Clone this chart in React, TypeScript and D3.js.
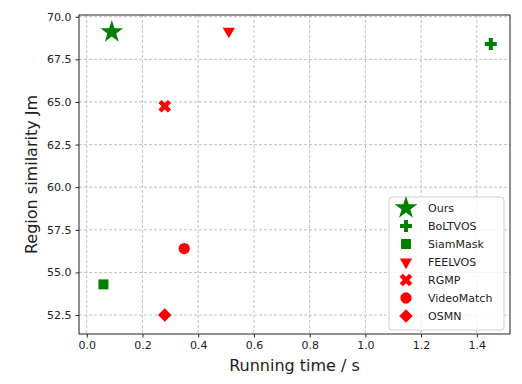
import React, { useEffect, useRef } from 'react';
import * as d3 from 'd3';

const methods = ['Ours', 'BoLTVOS', 'SiamMask', 'FEELVOS', 'RGMP', 'VideoMatch', 'OSMN'];
const runTimes = [0.09, 1.45, 0.06, 0.51, 0.28, 0.35, 0.28];
const similarity = [69.1, 68.4, 54.3, 69.15, 64.75, 56.4, 52.5];
const colors = ['green', 'green', 'green', 'red', 'red', 'red', 'red'];
const xTicks = [0, 0.2, 0.4, 0.6, 0.8, 1.0, 1.2, 1.4];
const yTicks = [52.5, 55, 57.5, 60, 62.5, 65, 67.5, 70];

// marker shapes: symbol type, area, rotation
const markers: [d3.SymbolType, number, number][] = [
  [d3.symbolStar, 160, 0],
  [d3.symbolCross, 80, 0],
  [d3.symbolSquare, 100, 0],
  [d3.symbolTriangle, 66, 180],
  [d3.symbolCross, 100, 45],
  [d3.symbolCircle, 100, 0],
  [d3.symbolSquare, 92, 45],
];

export default function App() {
  const svgRef = useRef<SVGSVGElement>(null);

  useEffect(() => {
    const width = 522;
    const height = 384;
    const margin = { top: 15, right: 12, bottom: 50, left: 79 };
    const innerW = width - margin.left - margin.right;
    const innerH = height - margin.top - margin.bottom;
    const font = 'DejaVu Sans, sans-serif';

    const svg = d3.select(svgRef.current);
    svg.selectAll('*').remove();

    const g = svg.append('g').attr('transform', `translate(${margin.left},${margin.top})`);

    const x = d3.scaleLinear().domain([-0.0277, 1.519]).range([0, innerW]);
    const y = d3.scaleLinear().domain([51.39, 70.1]).range([innerH, 0]);

    // grid
    g.append('g')
      .selectAll('line')
      .data(xTicks)
      .join('line')
      .attr('x1', (d) => x(d))
      .attr('x2', (d) => x(d))
      .attr('y1', 0)
      .attr('y2', innerH)
      .attr('stroke', '#b0b0b0')
      .attr('stroke-dasharray', '3,2')
      .attr('stroke-width', 0.8);
    g.append('g')
      .selectAll('line')
      .data(yTicks)
      .join('line')
      .attr('x1', 0)
      .attr('x2', innerW)
      .attr('y1', (d) => y(d))
      .attr('y2', (d) => y(d))
      .attr('stroke', '#b0b0b0')
      .attr('stroke-dasharray', '3,2')
      .attr('stroke-width', 0.8);

    // axes
    const xAxis = g
      .append('g')
      .attr('transform', `translate(0,${innerH})`)
      .call(d3.axisBottom(x).tickValues(xTicks).tickFormat(d3.format('.1f')).tickSize(3.5).tickPadding(4));
    const yAxis = g
      .append('g')
      .call(d3.axisLeft(y).tickValues(yTicks).tickFormat(d3.format('.1f')).tickSize(3.5).tickPadding(4));
    [xAxis, yAxis].forEach((a) => {
      a.select('.domain').remove();
      a.selectAll('text').attr('font-family', font).attr('font-size', 11).attr('fill', '#222');
      a.selectAll('line').attr('stroke', '#222');
    });

    g.append('rect')
      .attr('width', innerW)
      .attr('height', innerH)
      .attr('fill', 'none')
      .attr('stroke', '#222')
      .attr('stroke-width', 1);

    // points
    const sym = (i: number) => d3.symbol(markers[i][0], markers[i][1])();
    g.append('g')
      .selectAll('path')
      .data(methods)
      .join('path')
      .attr('d', (_, i) => sym(i))
      .attr('transform', (_, i) => `translate(${x(runTimes[i])},${y(similarity[i])}) rotate(${markers[i][2]})`)
      .attr('fill', (_, i) => colors[i]);

    // legend
    const lg = svg.append('g').attr('transform', 'translate(389,197)');
    lg.append('rect')
      .attr('width', 115)
      .attr('height', 133)
      .attr('rx', 3)
      .attr('fill', 'white')
      .attr('fill-opacity', 0.8)
      .attr('stroke', '#d0d0d0');
    const items = lg
      .selectAll('g.item')
      .data(methods)
      .join('g')
      .attr('class', 'item')
      .attr('transform', (_, i) => `translate(0,${11 + i * 18})`);
    items
      .append('path')
      .attr('d', (_, i) => sym(i))
      .attr('transform', (_, i) => `translate(17,0) rotate(${markers[i][2]})`)
      .attr('fill', (_, i) => colors[i]);
    items
      .append('text')
      .attr('x', 39)
      .attr('dy', '0.35em')
      .attr('font-family', font)
      .attr('font-size', 11)
      .attr('fill', '#222')
      .text((d) => d);

    // labels
    svg.append('text')
      .attr('x', margin.left + innerW / 2)
      .attr('y', 371)
      .attr('text-anchor', 'middle')
      .attr('font-family', font)
      .attr('font-size', 16)
      .attr('fill', '#222')
      .text('Running time / s');
    svg.append('text')
      .attr('transform', `translate(37,${margin.top + innerH / 2}) rotate(-90)`)
      .attr('text-anchor', 'middle')
      .attr('font-family', font)
      .attr('font-size', 16)
      .attr('fill', '#222')
      .text('Region similarity Jm');
  }, []);

  return (
    <svg
      ref={svgRef}
      width={522}
      height={384}
      style={{ position: 'absolute', left: 0, top: 0, background: 'white' }}
    />
  );
}
